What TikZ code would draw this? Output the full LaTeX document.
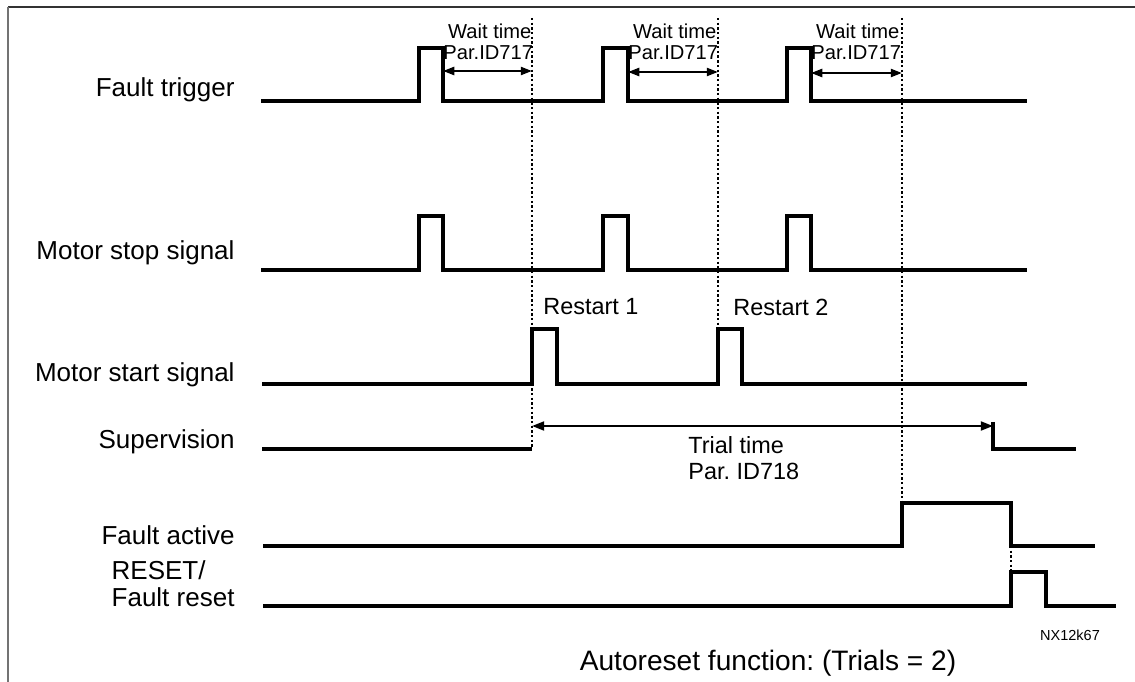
\documentclass[tikz,border=0pt]{standalone}
\usepackage{fontspec}
\setmainfont{Liberation Sans}
\usepackage{xcolor}
\usepackage{tikz}
\usetikzlibrary{arrows.meta, positioning, calc}
\frenchspacing

\begin{document}
\begin{tikzpicture}[
    x=0.015cm, y=-0.015cm,
    sig/.style={line width=1.3pt, line join=miter},
    guide/.style={densely dotted, line width=1pt},
    waitarr/.style={{Triangle[length=4.8pt, width=3.4pt]}-{Triangle[length=4.8pt, width=3.4pt]}, line width=1pt},
    trialarr/.style={{Triangle[length=5.2pt, width=3.8pt]}-{Triangle[length=5.2pt, width=3.8pt]}, line width=1pt},
    signame/.style={anchor=east, inner sep=0pt, align=left, font=\fontsize{11.1}{11.5}\selectfont},
    note/.style={anchor=west, inner sep=0pt, align=left, font=\fontsize{10}{11}\selectfont},
    waitlbl/.style={anchor=west, inner sep=0pt, align=left, font=\fontsize{8.6}{8.9}\selectfont}
]
\useasboundingbox (0,0) rectangle (1135,682);

% Frame
\draw[black!80, line width=0.9pt] (8,7) -- (1135,7);
\draw[black!55, line width=0.9pt] (8,7) -- (8,682);

% Marker points
\coordinate (m1top) at (532,18);
\coordinate (m1bot) at (532,449);
\coordinate (m2top) at (718,18);
\coordinate (m2bot) at (718,384);
\coordinate (m3top) at (902,18);
\coordinate (m3bot) at (902,503);
\coordinate (m4top) at (1011,546);
\coordinate (m4bot) at (1011,572);

% Dotted guides
\draw[guide] (m1top) -- (m1bot);
\draw[guide] (m2top) -- (m2bot);
\draw[guide] (m3top) -- (m3bot);
\draw[guide] (m4top) -- (m4bot);

% Signal names
\node[signame] (trigger) at (235,90) {Fault trigger};
\node[signame] (stop) at (235,253) {Motor stop signal};
\node[signame] (start) at (235,375) {Motor start signal};
\node[signame] (superv) at (235,442) {Supervision};
\node[signame] (active) at (235,535) {Fault active};
\node[signame] (reset) at (235,584) {RESET/\\ Fault reset};

% Waveforms
\draw[sig] (261,101) -| (419,48) -| (443,101) -| (603,48) -| (628,101) -| (787,48) -| (811,101) -- (1027,101);
\draw[sig] (261,270) -| (419,216) -| (443,270) -| (603,216) -| (628,270) -| (787,216) -| (811,270) -- (1027,270);
\draw[sig] (262,384) -| (532,329) -| (557,384) -| (718,329) -| (742,384) -- (1027,384);
\draw[sig] (262,449) -- (m1bot);
\draw[sig] (993,422) -- (993,449) -- (1076,449);
\draw[sig] (263,546) -| (902,503) -| (1011,546) -- (1095,546);
\draw[sig] (263,606) -| (1011,572) -| (1046,606) -- (1116,606);

% Wait times
\coordinate (w1a) at (443,71);
\coordinate (w1b) at (532,71);
\coordinate (w2a) at (628,72);
\coordinate (w2b) at (718,72);
\coordinate (w3a) at (811,73);
\coordinate (w3b) at (902,73);
\draw[waitarr] (w1a) -- (w1b);
\draw[waitarr] (w2a) -- (w2b);
\draw[waitarr] (w3a) -- (w3b);
\node[waitlbl] (wait1) at (443,42) {\hspace{2pt}Wait time\\Par.ID717};
\node[waitlbl] (wait2) at (628,42) {\hspace{2pt}Wait time\\Par.ID717};
\node[waitlbl] (wait3) at (811,42) {\hspace{2pt}Wait time\\Par.ID717};

% Restarts and trial time
\node[note] (restart1) at (543,307) {Restart 1};
\node[note] (restart2) at (733,307) {Restart 2};
\coordinate (t1) at (532,426);
\coordinate (t2) at (993,426);
\draw[trialarr] (t1) -- (t2);
\node[note] (trial) at (688,458) {Trial time\\Par. ID718};

% Footer
\node[inner sep=0pt, font=\fontsize{6.2}{7}\selectfont] (code) at (1070,635) {NX12k67};
\node[inner sep=0pt, font=\fontsize{12}{13}\selectfont] (caption) at (768,663) {Autoreset function: (Trials = 2)};
\end{tikzpicture}
\end{document}
